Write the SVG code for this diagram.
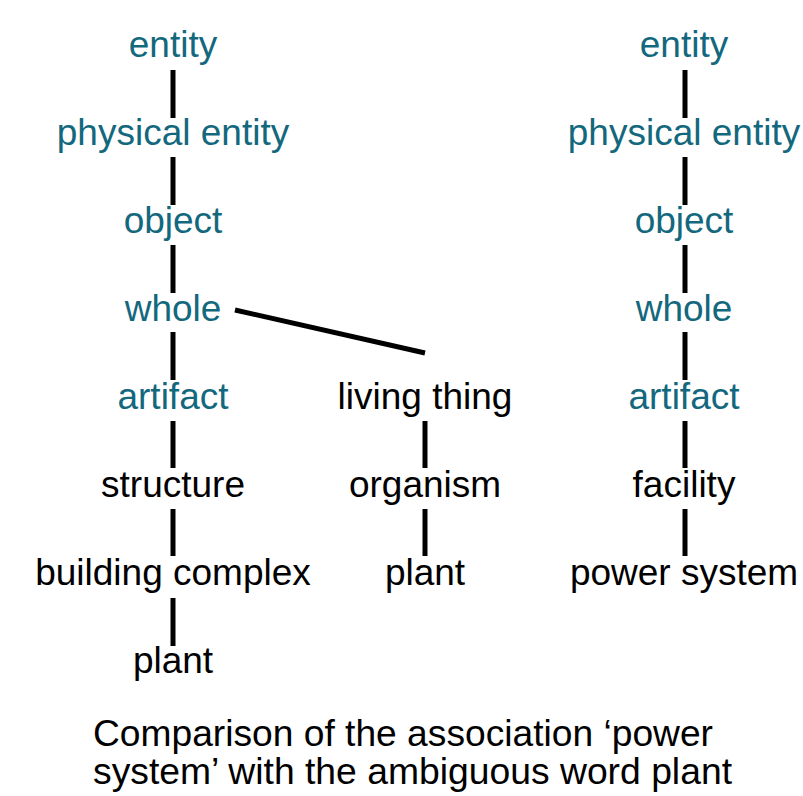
<svg xmlns="http://www.w3.org/2000/svg" width="803" height="796" viewBox="0 0 803 796">
  <style>
    text { font-family: "Liberation Sans", Arial, sans-serif; font-size: 37px; text-anchor: middle; }
    .wn { fill: #13687e; }
    .pl { fill: #000000; }
    .cap { text-anchor: start; font-size: 37px; fill: #000000; }
    .edge { stroke: #000000; stroke-width: 5; fill: none; }
  </style>
  <rect width="803" height="796" fill="#ffffff"/>

  <!-- connectors -->
  <g id="connectors">
    <!-- left chain -->
    <line class="edge" x1="173" y1="70" x2="173" y2="118"/>
    <line class="edge" x1="173" y1="157" x2="173" y2="205"/>
    <line class="edge" x1="173" y1="245" x2="173" y2="293"/>
    <line class="edge" x1="173" y1="332" x2="173" y2="380"/>
    <line class="edge" x1="173" y1="421" x2="173" y2="468"/>
    <line class="edge" x1="173" y1="509" x2="173" y2="556"/>
    <line class="edge" x1="173" y1="598" x2="173" y2="646"/>
    <!-- whole to living thing -->
    <line class="edge" x1="235" y1="310" x2="425" y2="353"/>
    <!-- middle chain -->
    <line class="edge" x1="425" y1="421" x2="425" y2="468"/>
    <line class="edge" x1="425" y1="509" x2="425" y2="556"/>
    <!-- right chain -->
    <line class="edge" x1="685" y1="70" x2="685" y2="118"/>
    <line class="edge" x1="685" y1="157" x2="685" y2="205"/>
    <line class="edge" x1="685" y1="245" x2="685" y2="293"/>
    <line class="edge" x1="685" y1="332" x2="685" y2="380"/>
    <line class="edge" x1="685" y1="421" x2="685" y2="468"/>
    <line class="edge" x1="685" y1="509" x2="685" y2="556"/>
  </g>

  <!-- left hierarchy: plant (building complex) -->
  <g id="l-entity"><text class="wn" x="173" y="57">entity</text></g>
  <g id="l-physical-entity"><text class="wn" x="173" y="145">physical entity</text></g>
  <g id="l-object"><text class="wn" x="173" y="233">object</text></g>
  <g id="l-whole"><text class="wn" x="173" y="321">whole</text></g>
  <g id="l-artifact"><text class="wn" x="173" y="409">artifact</text></g>
  <g id="l-structure"><text class="pl" x="173" y="497">structure</text></g>
  <g id="l-building-complex"><text class="pl" x="173" y="585">building complex</text></g>
  <g id="l-plant"><text class="pl" x="173" y="673">plant</text></g>

  <!-- middle hierarchy: plant (organism) -->
  <g id="m-living-thing"><text class="pl" x="425" y="409">living thing</text></g>
  <g id="m-organism"><text class="pl" x="425" y="497">organism</text></g>
  <g id="m-plant"><text class="pl" x="425" y="585">plant</text></g>

  <!-- right hierarchy: power system -->
  <g id="r-entity"><text class="wn" x="684" y="57">entity</text></g>
  <g id="r-physical-entity"><text class="wn" x="684" y="145">physical entity</text></g>
  <g id="r-object"><text class="wn" x="684" y="233">object</text></g>
  <g id="r-whole"><text class="wn" x="684" y="321">whole</text></g>
  <g id="r-artifact"><text class="wn" x="684" y="409">artifact</text></g>
  <g id="r-facility"><text class="pl" x="684" y="497">facility</text></g>
  <g id="r-power-system"><text class="pl" x="684" y="585">power system</text></g>

  <!-- caption -->
  <g id="caption">
    <text class="cap" x="93" y="746" textLength="620" lengthAdjust="spacingAndGlyphs">Comparison of the association ‘power</text>
    <text class="cap" x="93" y="784" textLength="639" lengthAdjust="spacingAndGlyphs">system’ with the ambiguous word plant</text>
  </g>
</svg>
